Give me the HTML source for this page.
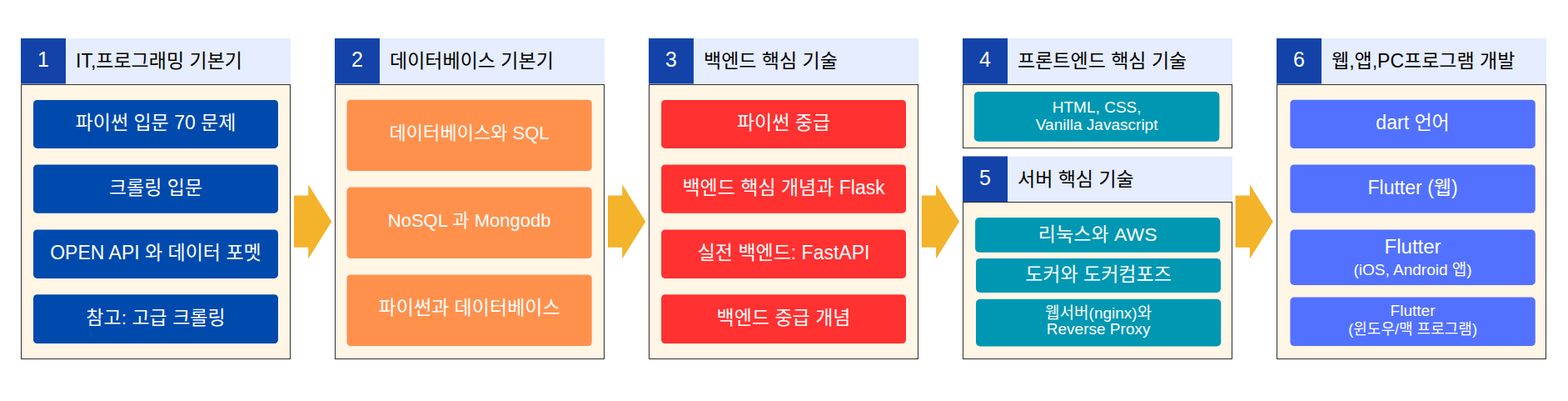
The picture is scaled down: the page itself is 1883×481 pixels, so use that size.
<!DOCTYPE html>
<html lang="ko"><head><meta charset="utf-8"><title>Roadmap</title>
<style>
html,body{margin:0;padding:0;background:#fff}
body{width:1883px;height:481px;position:relative;overflow:hidden;font-family:"Liberation Sans","Noto Sans CJK KR",sans-serif}
.hdr{position:absolute;width:324px;height:55px;background:linear-gradient(to bottom,#e5edfe 54px,#f0f5fe 54px)}
.num{position:absolute;left:0;top:0;width:54px;height:55px;background:linear-gradient(to bottom,#1343a8 54px,#7a96cf 54px)}
.ttl{position:absolute;left:54px;top:0;width:270px;height:55px}
.body{position:absolute;width:322px;background:#fff6e6;border:1px solid #302f2c}
.item{position:absolute;border-radius:4.5px;transform-origin:0 0}
.blue{background:#004aad}.orange{background:#ff914d}.red{background:#ff3131}.teal{background:#0097b2}.peri{background:#5271ff}
.t{position:absolute;left:0;top:0;width:100%;height:100%;overflow:hidden;font-size:20px;line-height:20px;text-align:center;white-space:nowrap;box-sizing:border-box;font-family:"Liberation Sans","Noto Sans CJK KR",sans-serif}
.num .t{color:#fff;font-size:25px;line-height:51px}
.ttl .t{color:#000;font-size:23px;line-height:54px;text-align:left;padding-left:12px}
.item .t{color:#fff;font-size:23px}
.t .l{display:block}
.arrow{position:absolute}
</style></head>
<body>
<div class="hdr" style="left:25px;top:46px"><div class="num"><span class="t">1</span></div><div class="ttl"><span class="t">IT,프로그래밍 기본기</span></div></div>
<div class="body" style="left:25px;top:101px;height:328px">
<div class="item blue" style="left:14px;top:17px;width:294px;height:58px;transform:matrix(1,0,0,1,0,0.9)"><span class="t" style="line-height:55px">파이썬 입문 70 문제</span></div>
<div class="item blue" style="left:14px;top:95px;width:294px;height:58px;transform:matrix(1,0,0,1.0034,0,0.5)"><span class="t" style="line-height:55px">크롤링 입문</span></div>
<div class="item blue" style="left:14px;top:173px;width:294px;height:58px;transform:matrix(1,0,0,1.0069,0,0.5)"><span class="t" style="line-height:55px">OPEN API 와 데이터 포멧</span></div>
<div class="item blue" style="left:14px;top:251px;width:294px;height:59px;transform:matrix(1,0,0,0.99661,0,0.2)"><span class="t" style="line-height:56px">참고: 고급 크롤링</span></div>
</div>
<div class="hdr" style="left:402px;top:46px"><div class="num"><span class="t">2</span></div><div class="ttl"><span class="t">데이터베이스 기본기</span></div></div>
<div class="body" style="left:402px;top:101px;height:328px">
<div class="item orange" style="left:13px;top:17px;width:294px;height:85px;transform:matrix(1.0007,0,0,1.0024,0.5,0.8)"><span class="t" style="font-size:22px;line-height:80px">데이터베이스와 SQL</span></div>
<div class="item orange" style="left:13px;top:122px;width:294px;height:85px;transform:matrix(1.0007,0,0,1.0047,0.5,0.6)"><span class="t" style="font-size:22px;line-height:80px">NoSQL 과 Mongodb</span></div>
<div class="item orange" style="left:13px;top:227px;width:294px;height:86px;transform:matrix(1.0007,0,0,0.99419,0.5,0.5)"><span class="t" style="font-size:23px;line-height:81px">파이썬과 데이터베이스</span></div>
</div>
<div class="hdr" style="left:779px;top:46px"><div class="num"><span class="t">3</span></div><div class="ttl"><span class="t">백엔드 핵심 기술</span></div></div>
<div class="body" style="left:779px;top:101px;height:328px">
<div class="item red" style="left:14px;top:17px;width:294px;height:58px;transform:matrix(0.99966,0,0,1,0.1,0.9)"><span class="t" style="line-height:55px">파이썬 중급</span></div>
<div class="item red" style="left:14px;top:95px;width:294px;height:58px;transform:matrix(0.99966,0,0,1.0034,0.1,0.5)"><span class="t" style="line-height:55px">백엔드 핵심 개념과 Flask</span></div>
<div class="item red" style="left:14px;top:173px;width:294px;height:58px;transform:matrix(0.99966,0,0,1.0069,0.1,0.5)"><span class="t" style="line-height:55px">실전 백엔드: FastAPI</span></div>
<div class="item red" style="left:14px;top:251px;width:294px;height:59px;transform:matrix(0.99966,0,0,0.99661,0.1,0.2)"><span class="t" style="line-height:56px">백엔드 중급 개념</span></div>
</div>
<div class="hdr" style="left:1156px;top:46px"><div class="num"><span class="t">4</span></div><div class="ttl"><span class="t">프론트엔드 핵심 기술</span></div></div>
<div class="body" style="left:1156px;top:101px;height:75px">
<div class="item teal" style="left:12px;top:8px;width:294px;height:60px;transform:matrix(1.0017,0,0,0.99583,0.9,0);border-radius:5px"><span class="t" style="font-size:19px;line-height:21px;padding-top:7.8px">HTML, CSS,<br>Vanilla Javascript</span></div>
</div>
<div class="hdr" style="left:1156px;top:187px;transform:translateY(0.5px)"><div class="num"><span class="t">5</span></div><div class="ttl"><span class="t">서버 핵심 기술</span></div></div>
<div class="body" style="left:1156px;top:242px;height:187px">
<div class="item teal" style="left:14px;top:18px;width:294px;height:42px;transform:matrix(1.0007,0,0,0.99286,0.1,0.1);border-radius:5px"><span class="t" style="line-height:40px">리눅스와 AWS</span></div>
<div class="item teal" style="left:15px;top:66px;width:294px;height:41px;transform:matrix(1,0,0,1,0,0.9);border-radius:5px"><span class="t" style="line-height:39px">도커와 도커컴포즈</span></div>
<div class="item teal" style="left:15px;top:115px;width:294px;height:57px;transform:matrix(1.0009,0,0,0.99474,0,0.7);border-radius:5px"><span class="t" style="font-size:19px;line-height:20.5px;padding-top:6.5px">웹서버(nginx)와<br>Reverse Proxy</span></div>
</div>
<div class="hdr" style="left:1533px;top:46px"><div class="num"><span class="t">6</span></div><div class="ttl"><span class="t">웹,앱,PC프로그램 개발</span></div></div>
<div class="body" style="left:1533px;top:101px;height:328px">
<div class="item peri" style="left:15px;top:17px;width:294px;height:58px;transform:matrix(1.0012,0,0,1.0026,0.4,0.75)"><span class="t" style="line-height:55px">dart 언어</span></div>
<div class="item peri" style="left:15px;top:95px;width:294px;height:58px;transform:matrix(1.0012,0,0,1.0017,0.4,0.5)"><span class="t" style="line-height:54px">Flutter (웹)</span></div>
<div class="item peri" style="left:15px;top:173px;width:294px;height:66px;transform:matrix(1.0012,0,0,1.0045,0.4,0.6)"><span class="t" style="padding-top:4.5px"><span class="l" style="font-size:24px;line-height:29px">Flutter</span><span class="l" style="font-size:19px;line-height:27px">(iOS, Android 앱)</span></span></div>
<div class="item peri" style="left:15px;top:254px;width:294px;height:58px;transform:matrix(1.0012,0,0,1.0069,0.4,0.6)"><span class="t" style="padding-top:5.2px"><span class="l" style="font-size:19px;line-height:22px">Flutter</span><span class="l" style="font-size:18px;line-height:22px">(윈도우/맥 프로그램)</span></span></div>
</div>
<svg class="arrow" style="left:353px;top:221px" width="47" height="91" viewBox="0 0 47 91" aria-hidden="true"><polygon fill="#f3b32a" points="0,13.5 17.25,13.5 17.25,0.25 45.25,44.85 17.25,89.5 17.25,75.85 0,75.85"/></svg>
<svg class="arrow" style="left:730px;top:221px" width="47" height="91" viewBox="0 0 47 91" aria-hidden="true"><polygon fill="#f3b32a" points="0,13.5 17.25,13.5 17.25,0.25 45.25,44.85 17.25,89.5 17.25,75.85 0,75.85"/></svg>
<svg class="arrow" style="left:1106px;top:221px" width="47" height="91" viewBox="0 0 47 91" aria-hidden="true"><polygon fill="#f3b32a" points="0.8,13.5 18.05,13.5 18.05,0.25 46.05,44.85 18.05,89.5 18.05,75.85 0.8,75.85"/></svg>
<svg class="arrow" style="left:1483px;top:221px" width="47" height="91" viewBox="0 0 47 91" aria-hidden="true"><polygon fill="#f3b32a" points="0.6,13.5 17.85,13.5 17.85,0.25 45.85,44.85 17.85,89.5 17.85,75.85 0.6,75.85"/></svg>
</body></html>
